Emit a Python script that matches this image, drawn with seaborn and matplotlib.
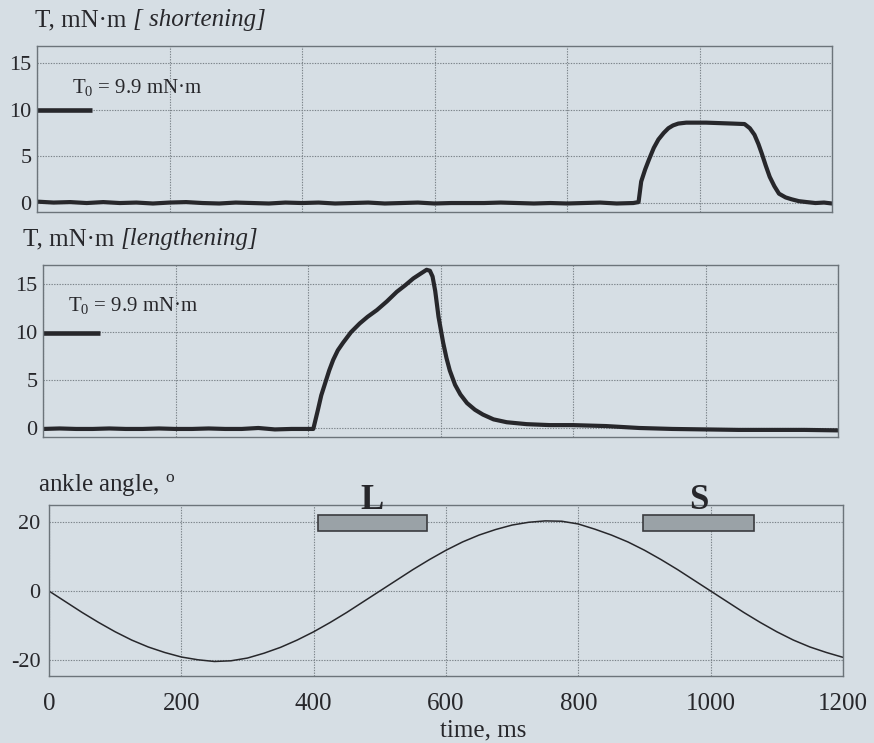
import matplotlib
matplotlib.use("Agg")
import matplotlib.pyplot as plt
import seaborn as sns
import pandas as pd

# ---- data -------------------------------------------------------------
# Torque during the shortening phase (ms, mN·m)
short_t = [0, 25, 50, 75, 100, 125, 150, 175, 200, 225, 250, 275, 300, 325,
           350, 375, 400, 425, 450, 475, 500, 525, 550, 575, 600, 625, 650,
           675, 700, 725, 750, 775, 800, 825, 850, 875, 900,
           908, 912, 918, 924, 931, 938, 946, 953, 960, 968, 980, 992, 1010,
           1030, 1050, 1068, 1076, 1083, 1089, 1094, 1100, 1106, 1113, 1120,
           1130, 1139, 1150, 1162, 1175, 1188, 1200]
short_T = [0.15, 0.05, 0.1, 0.0, 0.1, 0.0, 0.05, -0.05, 0.05, 0.1,
           0.0, -0.05, 0.05, 0.0, -0.05, 0.05, 0.0, 0.05, -0.05, 0.0,
           0.05, -0.05, 0.0, 0.05, -0.05, 0.0, 0.0, 0.0, 0.05, 0.0,
           -0.05, 0.0, -0.05, 0.0, 0.05, -0.05, 0.0,
           0.1, 2.3, 3.6, 4.7, 5.9, 6.8, 7.5, 8.0, 8.3, 8.5, 8.6, 8.6, 8.6,
           8.55, 8.5, 8.45, 8.0, 7.3, 6.3, 5.3, 4.0, 2.8, 1.8, 1.0,
           0.6, 0.4, 0.2, 0.1, 0.0, 0.05, -0.05]

# Torque during the lengthening phase (ms, mN·m)
long_t = [0, 25, 50, 75, 100, 125, 150, 175, 200, 225, 250, 275, 300, 325,
          350, 375, 400,
          408, 415, 420, 426, 432, 438, 445, 453, 465, 478,
          490, 504, 519, 534, 547, 559, 570, 579, 584, 588,
          592, 597, 604, 609, 614, 622, 630, 640, 652, 664,
          680, 700, 730, 765, 800, 850, 900, 950, 1000, 1050,
          1100, 1150, 1200]
long_T = [-0.1, -0.05, -0.1, -0.1, -0.05, -0.1, -0.1, -0.05, -0.1, -0.1,
          -0.05, -0.1, -0.1, 0.0, -0.15, -0.1, -0.1,
          -0.1, 1.9, 3.4, 4.7, 6.0, 7.1, 8.1, 8.9, 10.0, 10.9,
          11.6, 12.3, 13.2, 14.2, 14.9, 15.6, 16.1, 16.5, 16.4, 15.8,
          14.3, 11.6, 8.9, 7.3, 6.0, 4.5, 3.5, 2.6, 1.9, 1.4,
          0.9, 0.6, 0.4, 0.3, 0.3, 0.2, 0.0, -0.1, -0.15, -0.2,
          -0.2, -0.2, -0.25]

# Imposed ankle angle (ms, degrees)
angle_t = list(range(0, 1201, 25))
angle_deg = [0.0, -3.1, -6.2, -9.1, -11.8, -14.2, -16.2, -17.8, -19.1, -19.9,
             -20.4, -20.2, -19.4, -18.0, -16.3, -14.2, -11.8, -9.1, -6.2, -3.1,
             0.0, 3.1, 6.2, 9.1, 11.8, 14.2, 16.2, 17.8, 19.1, 19.9,
             20.3, 20.2, 19.4, 17.9, 16.2, 14.2, 11.8, 9.1, 6.2, 3.1,
             0.0, -3.1, -6.2, -9.1, -11.8, -14.2, -16.2, -17.8, -19.2]

# Stimulation windows
phase_labels = ["L", "S"]
phase_start = [406, 898]
phase_end = [571, 1065]

T0 = 9.9
x_ticks = [0, 200, 400, 600, 800, 1000, 1200]
torque_ticks = [0, 5, 10, 15]
angle_ticks = [-20, 0, 20]

# ---- style ------------------------------------------------------------
BG = "#d6dee4"
INK = "#27272b"
GRID = "#7b8389"
SPINE = "#6c747a"

sns.set_theme(style="whitegrid")
plt.rcParams.update({
    "font.family": ["Liberation Serif", "DejaVu Serif"],
    "mathtext.fontset": "custom",
    "mathtext.rm": "Liberation Serif",
    "mathtext.it": "Liberation Serif:italic",
    "axes.facecolor": BG,
    "figure.facecolor": BG,
    "axes.edgecolor": SPINE,
    "axes.linewidth": 1.0,
    "grid.color": GRID,
    "grid.linestyle": (0, (1.2, 1.2)),
    "grid.linewidth": 0.8,
    "xtick.major.size": 0,
    "ytick.major.size": 0,
    "text.color": INK,
    "xtick.color": INK,
    "ytick.color": INK,
})

W, H = 874, 743
fig = plt.figure(figsize=(W / 100, H / 100), dpi=100)


def px_axes(left, top, right, bottom):
    return fig.add_axes([left / W, 1 - bottom / H, (right - left) / W, (bottom - top) / H])


ax1 = px_axes(37, 46, 832, 212)
ax2 = px_axes(43, 265, 838, 437)
ax3 = px_axes(49, 505, 843, 676)

df_short = pd.DataFrame({"t": short_t, "T": short_T})
df_long = pd.DataFrame({"t": long_t, "T": long_T})
df_angle = pd.DataFrame({"t": angle_t, "deg": angle_deg})

sns.lineplot(data=df_short, x="t", y="T", ax=ax1, color=INK, linewidth=3.0,
             estimator=None, sort=False)
sns.lineplot(data=df_long, x="t", y="T", ax=ax2, color=INK, linewidth=3.0,
             estimator=None, sort=False)
sns.lineplot(data=df_angle, x="t", y="deg", ax=ax3, color=INK, linewidth=1.1,
             estimator=None, sort=False)

for ax in (ax1, ax2, ax3):
    ax.set_xlim(0, 1200)
    ax.set_xticks(x_ticks)
    ax.set_xlabel("")
    ax.set_ylabel("")
    ax.grid(True)
    for s in ax.spines.values():
        s.set_color(SPINE)
        s.set_linewidth(1.0)
    ax.tick_params(axis="y", labelsize=16, pad=4)

ax1.set_ylim(-0.96, 16.8)
ax2.set_ylim(-0.94, 17.0)
ax3.set_ylim(-24.6, 24.9)
for ax in (ax1, ax2):
    ax.set_yticks(torque_ticks)
    ax.tick_params(axis="x", labelbottom=False)
ax3.set_yticks(angle_ticks)
ax3.set_yticklabels([str(v) for v in angle_ticks])
ax3.set_xticklabels([str(v) for v in x_ticks])
ax3.tick_params(axis="x", labelsize=18, pad=12)
ax3.tick_params(axis="y", pad=6)

# Reference torque T0 markers
ax1.plot([0, 83], [T0, T0], color=INK, linewidth=3.3, solid_capstyle="butt", clip_on=False)
ax2.plot([0, 86], [T0, T0], color=INK, linewidth=3.3, solid_capstyle="butt", clip_on=False)
t0_label = r"$\mathrm{T}_0$ = " + f"{T0:.1f}" + " mN·m"
ax1.text(53, 11.8, t0_label, fontsize=15, va="baseline", ha="left")
ax2.text(38, 12.2, t0_label, fontsize=15, va="baseline", ha="left")

# Stimulation windows on the angle trace
for lab, a, b in zip(phase_labels, phase_start, phase_end):
    ax3.barh(y=19.7, width=b - a, left=a, height=4.6, color="#9aa2a7",
             edgecolor="#3a3b3f", linewidth=1.2, zorder=3)
    ax3.text((a + b) / 2, 23.8, lab, fontsize=25, fontweight="bold",
             ha="center", va="baseline", clip_on=False)

# Panel titles
def two_part_title(x_px, base_px, upright, italic, size):
    t = fig.text(x_px / W, 1 - base_px / H, upright, fontsize=size, va="baseline", ha="left")
    fig.canvas.draw()
    bb = t.get_window_extent()
    fig.text(bb.x1 / W, 1 - base_px / H, italic, fontsize=size, fontstyle="italic",
             va="baseline", ha="left")


two_part_title(35, 26, "T, mN·m ", "[ shortening]", 18)
two_part_title(23, 245, "T, mN·m ", "[lengthening]", 18)
fig.text(38 / W, 1 - 491 / H, r"ankle angle, $^{\mathrm{o}}$", fontsize=18,
         va="baseline", ha="left")
fig.text(440 / W, 1 - 736 / H, "time, ms", fontsize=18, va="baseline", ha="left")

fig.savefig("out.png", dpi=100, facecolor=BG)
